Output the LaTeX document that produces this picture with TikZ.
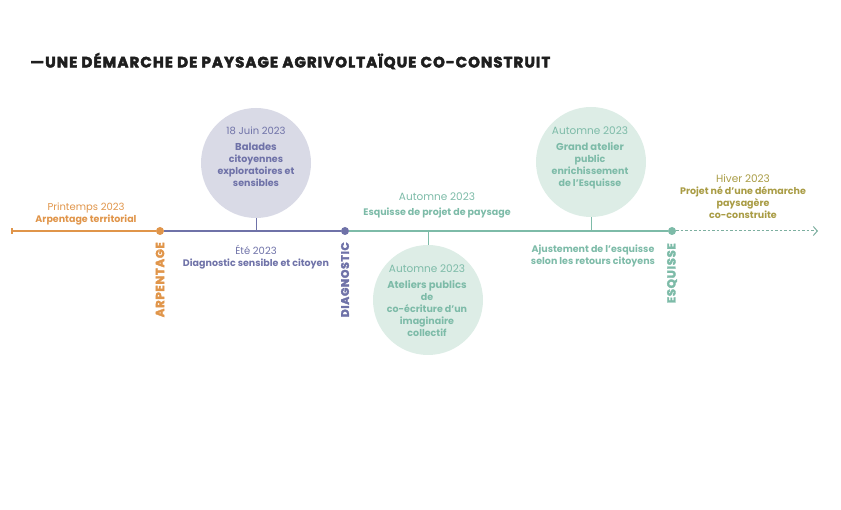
\documentclass[tikz,border=0pt]{standalone}
\usepackage{fontspec}
\usepackage{graphicx}
\setmainfont{Poppins}
\newfontfamily\titlefont{Poppins}[LetterSpace=7,BoldFeatures={FakeBold=3}]
\newfontfamily\vfont{Poppins}[LetterSpace=6,BoldFeatures={FakeBold=3}]
\usetikzlibrary{arrows.meta}
\definecolor{orangeC}{HTML}{E0954A}
\definecolor{purpleC}{HTML}{6F72A8}
\definecolor{lavC}{HTML}{D9DAE6}
\definecolor{tealC}{HTML}{7DBBA8}
\definecolor{mintC}{HTML}{DDEDE6}
\definecolor{oliveC}{HTML}{A99C45}
\definecolor{titleC}{HTML}{1E1E1E}
\newcommand{\vtext}[2]{\resizebox{#1}{!}{\vfont\bfseries\fontsize{11.5}{11.5}\selectfont #2}}
\begin{document}
\begin{tikzpicture}[x=1pt,y=-1pt,
  dot/.style={circle,inner sep=0pt,minimum size=8pt},
  bubble/.style={circle,inner sep=0pt,minimum size=110pt},
  lbl/.style={align=center,inner sep=0pt,font=\fontsize{9.5}{12}\selectfont},
  vlab/.style={rotate=90,anchor=east,inner sep=0pt},
  tl/.style={line width=1.1pt}
]
\useasboundingbox (0,0) rectangle (841,510);

% title
\node[anchor=west,inner sep=0pt,text=titleC,font=\titlefont\bfseries\fontsize{15}{15}\selectfont] (title) at (30,61) {—UNE DÉMARCHE DE PAYSAGE AGRIVOLTAÏQUE CO-CONSTRUIT};

% bubbles
\node[bubble,fill=lavC] (b1) at (256,163) {};
\node[bubble,fill=mintC] (b2) at (428,300) {};
\node[bubble,fill=mintC] (b3) at (591,162) {};

% timeline points
\coordinate (start) at (12,231);
\node[dot,fill=orangeC] (arp) at (160,231) {};
\node[dot,fill=purpleC] (diag) at (345,231) {};
\node[dot,fill=tealC] (esq) at (672,231) {};
\coordinate (end) at (818,231);
\coordinate (t1) at (256,231);
\coordinate (t2) at (428,231);
\coordinate (t3) at (591,231);

\draw[tl,orangeC] (start) -- (arp);
\draw[tl,orangeC] ([yshift=-3pt]start) -- ([yshift=3pt]start);
\draw[tl,purpleC] (arp) -- (diag);
\draw[tl,tealC] (diag) -- (esq);
\draw[line width=1pt,tealC!80!gray,dash pattern=on 2.5pt off 2pt,-{Straight Barb[length=4pt,width=9pt,line width=1pt]}] (esq) -- (end);

\draw[line width=1pt,purpleC] (b1) -- (t1);
\draw[line width=1pt,tealC] (b2) -- (t2);
\draw[line width=1pt,tealC] (b3) -- (t3);

% vertical labels
\node[vlab,text=orangeC] (varp) at (160,242) {\vtext{75pt}{ARPENTAGE}};
\node[vlab,text=purpleC] (vdiag) at (345,242) {\vtext{75pt}{DIAGNOSTIC}};
\node[vlab,text=tealC] (vesq) at (672,243) {\vtext{60pt}{ESQUISSE}};

% labels
\node[lbl,text=orangeC] (l1) at (86,214) {\fontsize{10}{12}\selectfont Printemps 2023\\\textbf{Arpentage territorial}};
\node[lbl,text=purpleC] (l2) at (256,257) {\fontsize{10}{12}\selectfont Été 2023\\\fontsize{9.5}{12}\selectfont\textbf{Diagnostic sensible et citoyen}};
\node[lbl,text=tealC] (l3) at (437,205) {\fontsize{10.5}{12}\selectfont Automne 2023\\[3pt]\fontsize{9.5}{12}\selectfont\textbf{Esquisse de projet de paysage}};
\node[lbl,text=tealC] (l4) at (593,256) {\textbf{Ajustement de l'esquisse}\\\textbf{selon les retours citoyens}};
\node[lbl,text=oliveC,anchor=north] (l5) at (743,174) {\fontsize{10.5}{12}\selectfont Hiver 2023\\\fontsize{9.5}{12}\selectfont\textbf{Projet né d'une démarche}\\\textbf{paysagère}\\\textbf{co-construite}};

\node[lbl,text=purpleC,anchor=north] (c1) at (256,127) {\fontsize{10}{12}\selectfont 18 Juin 2023\\[4pt]\fontsize{10}{12}\selectfont\textbf{Balades}\\\textbf{citoyennes}\\\textbf{exploratoires et}\\\textbf{sensibles}};
\node[lbl,text=tealC,anchor=north] (c2) at (427,265) {\fontsize{10.5}{12}\selectfont Automne 2023\\[4pt]\fontsize{10}{12}\selectfont\textbf{Ateliers publics}\\\textbf{de}\\\textbf{co-écriture d'un}\\\textbf{imaginaire}\\\textbf{collectif}};
\node[lbl,text=tealC,anchor=north] (c3) at (590,127) {\fontsize{10.5}{12}\selectfont Automne 2023\\[4pt]\fontsize{10}{12}\selectfont\textbf{Grand atelier}\\\textbf{public}\\\textbf{enrichissement}\\\textbf{de l'Esquisse}};
\end{tikzpicture}
\end{document}
